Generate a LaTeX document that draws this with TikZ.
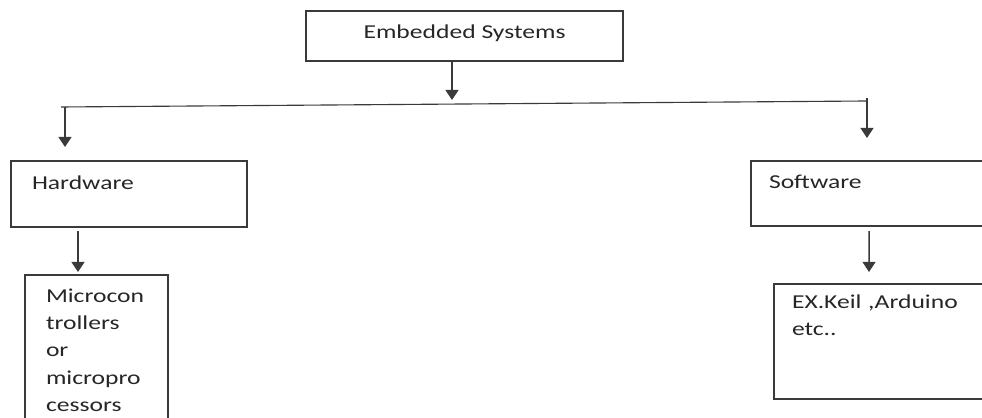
\documentclass[tikz,border=0pt]{standalone}
\usepackage{fontspec}
\setmainfont{Carlito}[FakeStretch=1.3]
\usetikzlibrary{arrows.meta}
\begin{document}
\begin{tikzpicture}[x=0.025cm, y=-0.025cm]
    \definecolor{line-color}{HTML}{3a3a3a}
    \definecolor{text-color}{HTML}{262626}
    \tikzstyle{every node}=[font=\fontsize{14pt}{19.5pt}\selectfont, text=text-color]
    \tikzstyle{block} = [rectangle, draw=line-color, line width=1.1pt, anchor=north west, inner ysep=0pt, outer sep=0pt]
    \tikzstyle{link} = [draw=line-color, line width=1.1pt, -{Triangle[length=0.25cm, width=0.32cm]}]
    \tikzstyle{bus} = [draw=line-color, line width=0.8pt]
    \clip (0,0) rectangle (982,418);
        \node (top) [block, inner xsep=0pt, minimum width=7.925cm, text height=0.675cm, text depth=0.575cm] at (306,11) {Embedded Systems};
        \node (hw) [block, inner xsep=0.525cm, text width=4.85cm, align=left, text height=0.7cm, text depth=0.95cm] at (11,161) {Hardware};
        \node (mc) [block, inner xsep=0.525cm, text width=2.525cm, align=left, text height=0.675cm, text depth=3.2cm] at (25,275) {Microcon\\trollers\\or\\micropro\\cessors};
        \node (sw) [block, inner xsep=0.45cm, text width=5.6cm, align=left, text height=0.675cm, text depth=0.95cm] at (751,161) {Software};
        \node (ex) [block, inner xsep=0.45cm, text width=4.85cm, align=left, text height=0.6cm, text depth=2.275cm] at (774,284) {EX.Keil ,Arduino\\etc..};
        \coordinate (split) at (452,100);
        \coordinate (busL) at (61,107);
        \coordinate (busR) at (867,101);
        \coordinate (hwtip) at (65,147);
        \coordinate (swtip) at (867,138);
        \draw[link] (top.south -| split) -- (split);
        \draw[bus] (busL) -- (busR);
        \draw[link] (busL -| hwtip) -- (hwtip);
        \draw[link] ([yshift=0.075cm]busR) -- (swtip);
        \draw[link] ([xshift=-1.275cm, yshift=-0.1cm]hw.south) -- ([xshift=-0.4625cm, yshift=0.075cm]mc.north);
        \draw[link] ([xshift=-0.3cm, yshift=-0.125cm]sw.south) -- ([xshift=-0.5cm, yshift=0.3cm]ex.north);
\end{tikzpicture}
\end{document}
